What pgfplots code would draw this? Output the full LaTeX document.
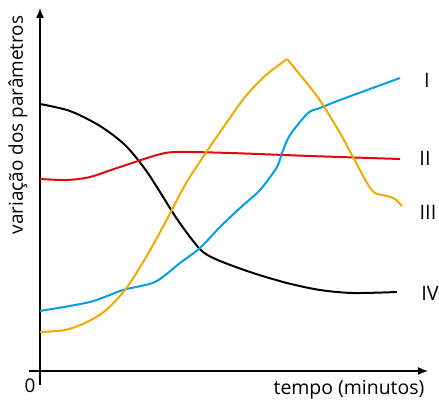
\documentclass[border=0pt]{standalone}
\usepackage{pgfplots}
\pgfplotsset{compat=1.18}
\usepackage{fontspec}
\setmainfont{Open Sans}
\usetikzlibrary{arrows.meta}
\definecolor{cI}{RGB}{0,160,227}
\definecolor{cII}{RGB}{227,6,19}
\definecolor{cIII}{RGB}{245,168,0}
\begin{document}
\begin{tikzpicture}
\begin{axis}[
    name=ax,
    scale only axis,
    width=439bp, height=402bp,
    xmin=0, xmax=439, ymin=0, ymax=402,
    hide axis,
    clip=false,
    every axis plot/.append style={line width=2pt, line join=round},
]
% eixos
\addplot[black, line width=1.4pt, -{Latex[length=10pt,width=8pt]}] coordinates {(40,17) (40,394)};
\addplot[black, line width=1.4pt, -{Latex[length=10pt,width=8pt]}] coordinates {(29,31) (428,31)};

% IV
\addplot[black, smooth, tension=0.5] coordinates {
    (40,298) (70,291) (100,276) (125,257) (145,233) (160,210) (175,186)
    (190,165) (203,150) (220,141) (253,129) (287,119) (320,112) (353,109) (397,110)
};
% II
\addplot[cII, smooth, tension=0.5] coordinates {
    (40,223) (67,222) (90,225) (117,234) (157,247) (177,250)
    (230,249) (310,246) (400,243)
};
% I
\addplot[cI, smooth, tension=0.45] coordinates {
    (40,91) (90,100) (123,112) (155,120) (180,139) (200,154) (220,175)
    (240,194) (260,212) (277,235) (282,249) (290,267) (308,289) (320,294)
    (340,302) (400,324)
};
% III
\addplot[cIII, smooth, tension=0.5] coordinates {
    (40,70) (65,72) (85,79) (105,91) (125,112) (145,143) (165,179)
    (185,217) (205,248) (225,277) (245,305) (265,326) (287,343)
};
\addplot[cIII, smooth, tension=0.45] coordinates {
    (287,343) (310,315) (323,297) (340,269) (353,245) (367,219) (375,209)
    (387,206) (395,203) (402,196)
};

\node[font=\fontsize{20}{24}\selectfont] at (axis cs:427,322) {I};
\node[font=\fontsize{20}{24}\selectfont] at (axis cs:425,244) {II};
\node[font=\fontsize{20}{24}\selectfont] at (axis cs:428,190) {III};
\node[font=\fontsize{20}{24}\selectfont] at (axis cs:430,109) {IV};
\node[font=\fontsize{19}{22}\selectfont] at (axis cs:30,16) {0};
\node[font=\fontsize{19.5}{22}\selectfont] at (axis cs:349,12) {tempo (minutos)};
\node[font=\fontsize{19}{22}\selectfont, rotate=90] at (axis cs:18,277) {variação dos parâmetros};
\end{axis}
\pgfresetboundingbox
\path (ax.south west) rectangle (ax.north east);
\end{tikzpicture}
\end{document}
